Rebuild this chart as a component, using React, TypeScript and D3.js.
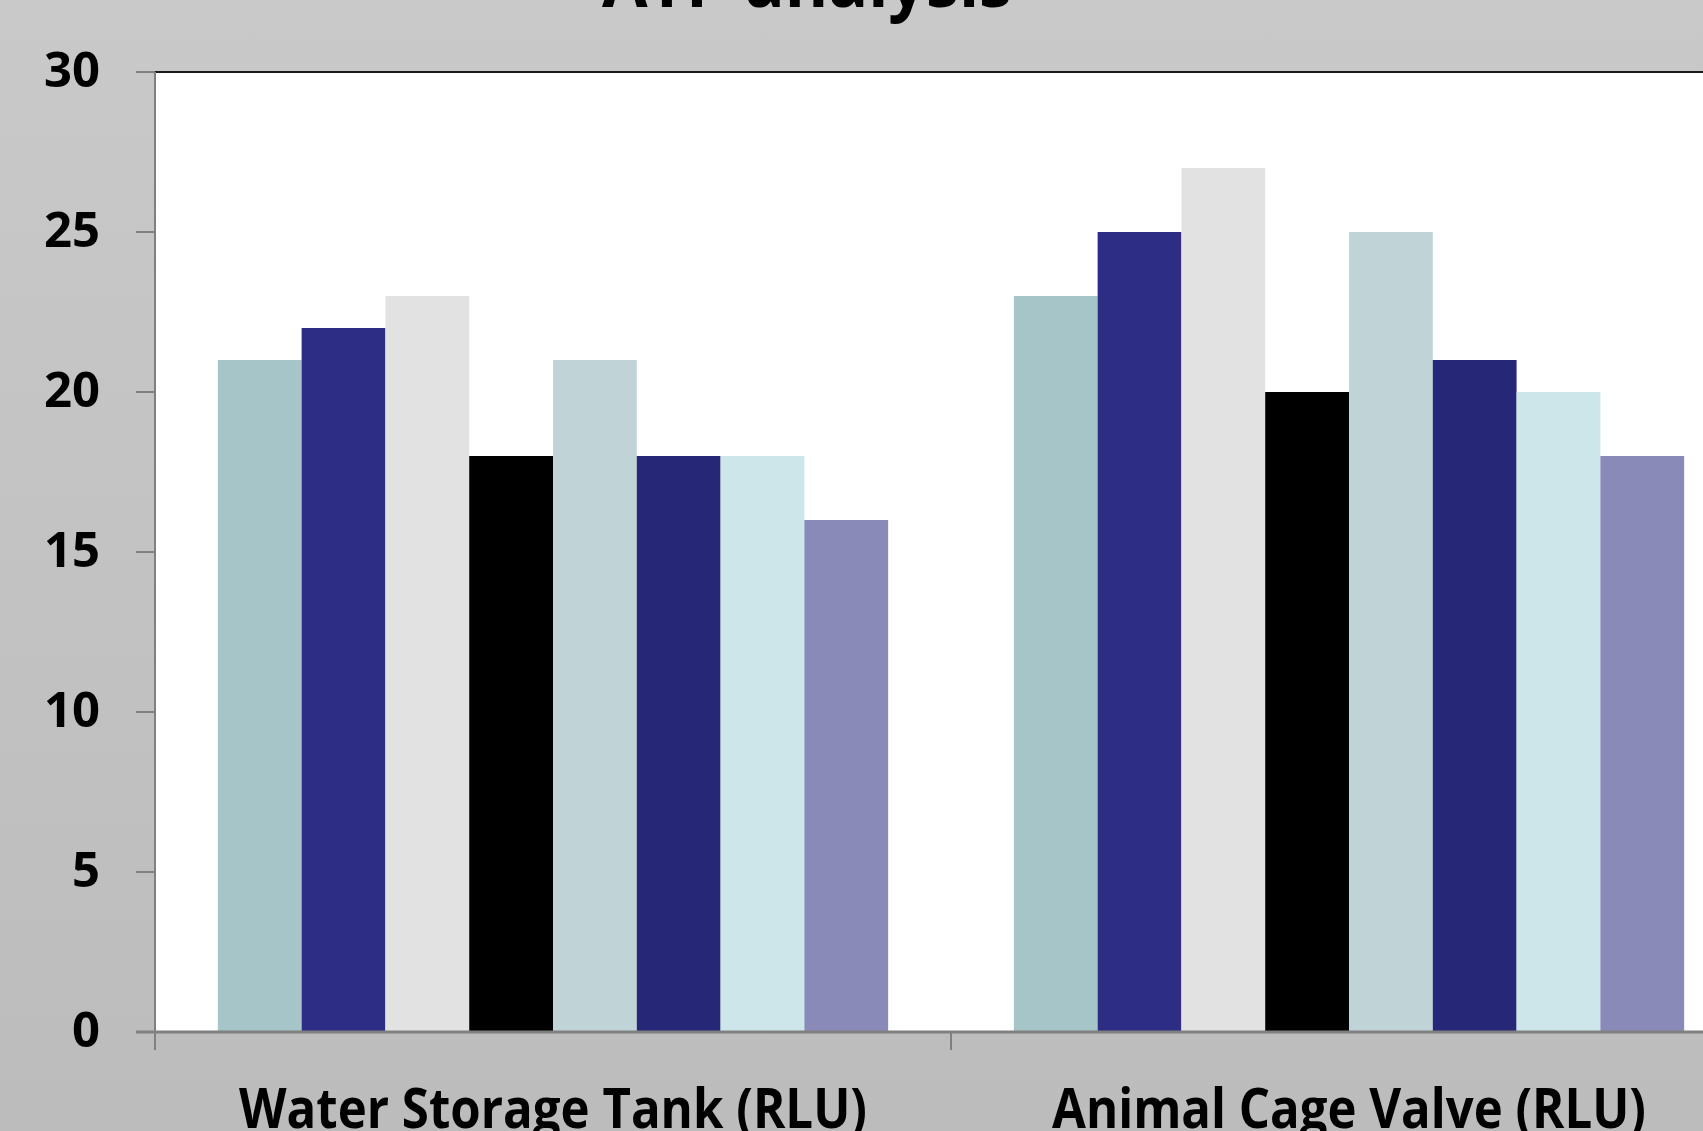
import React from "react";
import * as d3 from "d3";

const categories = ["Water Storage Tank (RLU)", "Animal Cage Valve (RLU)"];
const seriesNames = ["S1", "S2", "S3", "S4", "S5", "S6", "S7", "S8"];
const waterStorageTank = [21, 22, 23, 18, 21, 18, 18, 16];
const animalCageValve = [23, 25, 27, 20, 25, 21, 20, 18];
const seriesColors = ["#a5c5c8", "#2d2d86", "#e2e2e2", "#000000", "#c0d3d7", "#272778", "#cde6ea", "#8a8ab8"];
const yTicks = [0, 5, 10, 15, 20, 25, 30];
const title = "ATP analysis";

const W = 1703;
const H = 1131;
const plotLeft = 155;
const plotTop = 72;
const plotBottom = 1032;
const catWidth = 796;
const font = "'Open Sans', 'Noto Sans', sans-serif";

export default function App() {
  const values = [waterStorageTank, animalCageValve];
  const x0 = d3.scaleBand<string>().domain(categories).range([plotLeft, plotLeft + catWidth * categories.length]).padding(0);
  const x1 = d3.scaleBand<string>().domain(seriesNames).range([0, x0.bandwidth()]).paddingInner(0).paddingOuter(0.75);
  const y = d3.scaleLinear().domain([0, 30]).range([plotBottom, plotTop]);
  const labelWidths = [628, 594];

  return (
    <svg width={W} height={H} style={{ position: "absolute", left: 0, top: 0, display: "block" }}>
      <defs>
        <linearGradient id="bg" x1="0" y1="0" x2="0" y2="1">
          <stop offset="0" stopColor="#c9c9c9" />
          <stop offset="1" stopColor="#bcbcbc" />
        </linearGradient>
      </defs>
      <rect x={0} y={0} width={W} height={H} fill="url(#bg)" />
      <text x={807} y={7} textAnchor="middle" fontFamily={font} fontWeight={700} fontSize={72} fill="#000"
        textLength={410} lengthAdjust="spacingAndGlyphs">{title}</text>
      <rect x={plotLeft} y={plotTop} width={W - plotLeft + 10} height={plotBottom - plotTop} fill="#ffffff" />
      {categories.map((c, ci) =>
        seriesNames.map((s, si) => {
          const v = values[ci][si];
          return (
            <rect key={c + s} x={(x0(c) as number) + (x1(s) as number)} y={y(v)} width={x1.bandwidth()}
              height={plotBottom - y(v)} fill={seriesColors[si]} />
          );
        })
      )}
      <line x1={plotLeft} x2={W} y1={plotTop} y2={plotTop} stroke="#1a1a1a" strokeWidth={2} />
      <line x1={plotLeft} x2={plotLeft} y1={plotTop} y2={plotBottom + 18} stroke="#808080" strokeWidth={2} />
      <line x1={136} x2={W} y1={plotBottom} y2={plotBottom} stroke="#808080" strokeWidth={3} />
      {yTicks.map((t) => (
        <g key={t}>
          <line x1={136} x2={plotLeft} y1={y(t)} y2={y(t)} stroke="#808080" strokeWidth={2} />
          <text x={100} y={y(t) + 15} textAnchor="end" fontFamily={font} fontWeight={700} fontSize={49} fill="#000">{t}</text>
        </g>
      ))}
      {categories.map((c, ci) => (
        <g key={c}>
          {ci > 0 && (
            <line x1={x0(c)} x2={x0(c)} y1={plotBottom} y2={plotBottom + 18} stroke="#808080" strokeWidth={2} />
          )}
          <text x={(x0(c) as number) + x0.bandwidth() / 2} y={1128} textAnchor="middle" fontFamily={font}
            fontWeight={700} fontSize={55} fill="#000" textLength={labelWidths[ci]} lengthAdjust="spacingAndGlyphs">{c}</text>
        </g>
      ))}
    </svg>
  );
}
